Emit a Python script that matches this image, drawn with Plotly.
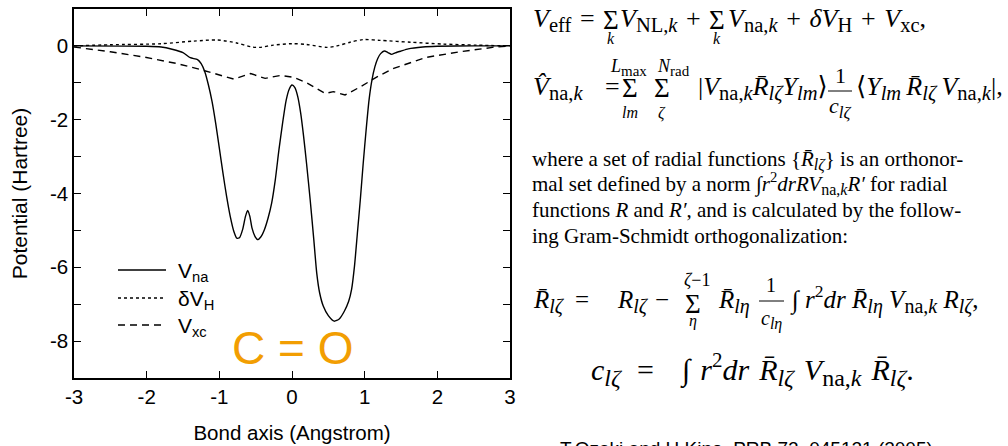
import plotly.graph_objects as go

# ---- potentials along the C=O bond axis (Hartree vs Angstrom) ----
x_na = [-3.0, -2.0, -1.8, -1.65, -1.5, -1.4, -1.3, -1.25, -1.2, -1.15, -1.1, -1.05,
        -1.0, -0.95, -0.9, -0.85, -0.8, -0.76, -0.72, -0.68, -0.64, -0.61, -0.58,
        -0.55, -0.51, -0.47, -0.43, -0.38, -0.33, -0.28, -0.23, -0.18, -0.13, -0.08,
        -0.04, 0.0, 0.04, 0.08, 0.12, 0.16, 0.2, 0.25, 0.3, 0.34, 0.38, 0.43, 0.5,
        0.58, 0.65, 0.72, 0.78, 0.82, 0.86, 0.9, 0.94, 0.98, 1.02, 1.06, 1.1, 1.14,
        1.18, 1.22, 1.27, 1.32, 1.37, 1.42, 1.5, 1.6, 1.8, 2.0, 2.5, 3.0]
v_na = [0.0, -0.01, -0.03, -0.09, -0.18, -0.32, -0.37, -0.48, -0.70, -1.06, -1.51, -2.10,
        -2.77, -3.45, -4.08, -4.62, -5.03, -5.21, -5.19, -4.98, -4.62, -4.46, -4.62,
        -4.94, -5.16, -5.25, -5.18, -4.98, -4.67, -4.26, -3.63, -2.82, -2.10, -1.47,
        -1.18, -1.06, -1.13, -1.38, -1.83, -2.46, -3.18, -4.17, -5.25, -6.15, -6.69,
        -7.05, -7.31, -7.46, -7.40, -7.19, -6.92, -6.60, -5.97, -5.07, -4.17, -3.18,
        -2.28, -1.47, -0.93, -0.57, -0.34, -0.21, -0.14, -0.18, -0.23, -0.19, -0.14,
        -0.08, -0.03, -0.01, 0.0, 0.0]

x_h = [-3.0, -2.5, -1.8, -1.35, -1.03, -0.76, -0.55, -0.44, -0.26, 0.0, 0.2, 0.48,
       0.62, 0.8, 0.98, 1.21, 1.63, 2.08, 2.54, 3.0]
dv_h = [0.0, 0.03, 0.06, 0.13, 0.16, 0.08, -0.03, -0.04, 0.02, 0.06, 0.04, -0.04,
        0.0, 0.10, 0.17, 0.15, 0.10, 0.05, 0.02, 0.0]

x_xc = [-3.0, -2.5, -2.04, -1.58, -1.26, -0.80, -0.57, -0.37, -0.16, 0.02, 0.2, 0.46,
        0.57, 0.73, 0.94, 1.17, 1.4, 1.85, 2.31, 2.76, 3.0]
v_xc = [-0.03, -0.16, -0.30, -0.48, -0.64, -0.90, -0.75, -0.88, -0.80, -0.85, -1.0,
        -1.29, -1.24, -1.33, -1.11, -0.84, -0.61, -0.31, -0.16, -0.04, 0.0]

series_names = ["V<sub>na</sub>", "\u03b4V<sub>H</sub>", "V<sub>xc</sub>"]
series_dash = ["solid", "3px,3px", "7px,5px"]

x_ticks = [-3, -2, -1, 0, 1, 2, 3]
x_tick_labels = ["-3", "-2", "-1", "0", "1", "2", "3"]
y_ticks = [-9, -8, -7, -6, -5, -4, -3, -2, -1, 0, 1]
y_tick_labels = ["", "-8", "", "-6", "", "-4", "", "-2", "", "0", ""]

W, H = 1008, 446
ML, MR, MT, MB = 74, 498, 9, 68
PW, PH = W - ML - MR, H - MT - MB

SANS = "Liberation Sans, Arial, sans-serif"
SERIF = "Liberation Serif, DejaVu Serif, serif"
FONT_METRICS = {SERIF: (0.891, 0.216), SANS: (0.905, 0.212)}


def fx(px):
    return (px - ML) / PW


def fy(py):
    return (H - MB - py) / PH


fig = go.Figure()
fig.add_trace(go.Scatter(x=x_na, y=v_na, mode="lines", name=series_names[0],
                         line=dict(color="black", width=1.4, dash=series_dash[0],
                                   shape="spline", smoothing=0.6)))
fig.add_trace(go.Scatter(x=x_h, y=dv_h, mode="lines", name=series_names[1],
                         line=dict(color="black", width=1.4, dash=series_dash[1],
                                   shape="spline", smoothing=0.8)))
fig.add_trace(go.Scatter(x=x_xc, y=v_xc, mode="lines", name=series_names[2],
                         line=dict(color="black", width=1.4, dash=series_dash[2])))

axis_common = dict(showline=True, linecolor="black", linewidth=1.5, mirror="ticks",
                   ticks="inside", ticklen=7, tickwidth=1.3, tickcolor="black",
                   showgrid=False, zeroline=False,
                   tickfont=dict(family=SANS, size=20.5, color="black"))

fig.update_xaxes(range=[-3, 3], tickmode="array", tickvals=x_ticks, ticktext=x_tick_labels,
                 title=dict(text="Bond axis (Angstrom)", standoff=18,
                            font=dict(family=SANS, size=20.5, color="black")),
                 **axis_common)
fig.update_yaxes(range=[-9, 1], tickmode="array", tickvals=y_ticks, ticktext=y_tick_labels,
                 title=dict(text="Potential (Hartree)", standoff=17,
                            font=dict(family=SANS, size=21, color="black")),
                 **axis_common)

notes = []


def seg(text, x, base, size, kind="sub", xanchor="left", family=SERIF, color="black"):
    """Place a text run so that its baseline sits at pixel row `base`.

    kind: 'sub' (no superscript) anchors on the box top, 'sup' (no subscript)
    anchors on the box bottom, 'both' anchors on the middle.
    """
    asc, desc = FONT_METRICS[family]
    if kind == "sup":
        y, ya = base + desc * size, "bottom"
    elif kind == "both":
        y, ya = base - (asc - desc) / 2 * size, "middle"
    else:
        y, ya = base - asc * size, "top"
    notes.append(dict(text=text, x=fx(x), y=fy(y), xref="paper", yref="paper",
                      xanchor=xanchor, yanchor=ya, showarrow=False,
                      borderpad=0, borderwidth=0,
                      font=dict(family=family, size=size, color=color)))


def bar(x0, x1, y):
    fig.add_shape(type="line", xref="paper", yref="paper", x0=fx(x0), x1=fx(x1),
                  y0=fy(y), y1=fy(y), line=dict(color="black", width=1))


def sb(t, s):
    return '<sub><span style="font-size:%gpx">%s</span></sub>' % (s, t)


SIG = "\u03a3"
SIG_SIZE = 27
TH = "\u2004"   # thick math space
MD = "\u2005"   # medium math space
RB = "<i>R\u0304</i>"
LZ = "<i>l\u03b6</i>"
LE = "<i>l\u03b7</i>"
LM = "<i>lm</i>"
NAK = "na,<i>k</i>"
R2DR = "<i>r</i><sup>2</sup><i>dr</i>"

# molecule label inside the plot
fig.add_annotation(text="C = O", x=0, y=-8.2, xref="x", yref="y", showarrow=False,
                   font=dict(family=SANS, size=46, color="#F29E02"))

# legend drawn inside the plot area
for i, (name, dash) in enumerate(zip(series_names, series_dash)):
    row = [270, 298, 325][i]
    fig.add_shape(type="line", xref="paper", yref="paper", x0=fx(118), x1=fx(166),
                  y0=fy(row), y1=fy(row), line=dict(color="black", width=1.4, dash=dash))
    seg(name, 178, [278, 306, 333][i], 21, family=SANS)

# equation 1
B1, S1, s1 = 27, 26, 20.5
seg("<i>V</i>" + sb("eff", s1) + TH + "=", 533, B1, S1)
seg(SIG, 611, 29, SIG_SIZE, xanchor="center")
seg("<i>k</i>", 611, 44, 16, xanchor="center")
seg("<i>V</i>" + sb("NL,<i>k</i>", s1) + TH + "+", 620, B1, S1)
seg(SIG, 717, 29, SIG_SIZE, xanchor="center")
seg("<i>k</i>", 717, 44, 16, xanchor="center")
seg("<i>V</i>" + sb(NAK, s1) + TH + "+" + TH + "<i>\u03b4V</i>" + sb("H", s1) + TH + "+" + TH
    + "<i>V</i>" + sb("xc", s1) + ",", 728, B1, S1)

# equation 2
B2 = 95
seg("<i>V\u0302</i>" + sb(NAK, s1), 533, B2, S1)
seg("=", 605, B2, S1)
seg(SIG, 630, 97, SIG_SIZE, xanchor="center")
seg("<i>L</i>" + sb("max", 15), 628, 72, 18, xanchor="center")
seg(LM, 630, 118, 16, xanchor="center")
seg(SIG, 662, 97, SIG_SIZE, xanchor="center")
seg("<i>N</i>" + sb("rad", 15), 673, 72, 18, xanchor="center")
seg("<i>\u03b6</i>", 662, 118, 16, xanchor="center")
seg("|<i>V</i>" + sb(NAK, s1) + RB + sb(LZ, s1) + "<i>Y</i>" + sb(LM, s1) + "\u27e9",
    698, B2, S1)
seg("1", 840, 83, 22, xanchor="center")
bar(828, 852, 91)
seg("<i>c</i>" + sb(LZ, 17), 840, 113, 22, xanchor="center")
seg("\u27e8<i>Y</i>" + sb(LM, s1) + "\u2009" + RB + sb(LZ, s1) + "\u2009<i>V</i>"
    + sb(NAK, s1) + "|,", 856, B2, S1)

# paragraph
SP = 21
seg("where a set of radial functions {" + RB + sb(LZ, 16) + "} is an orthonor-",
    532, 166, SP)
seg("mal set defined by a norm \u222b" + R2DR + "<i>RV</i>" + sb(NAK, 16)
    + "<i>R\u2032</i> for radial", 532, 191, SP, kind="both")
seg("functions <i>R</i> and <i>R\u2032</i>, and is calculated by the follow-", 532, 217, SP)
seg("ing Gram-Schmidt orthogonalization:", 532, 242.5, SP)

# equation 3
B3, S3, s3 = 308, 25, 20
seg(RB + sb(LZ, s3), 533, B3, S3)
seg("=", 575, B3, S3)
seg("<i>R</i>" + sb(LZ, s3), 617, B3, S3)
seg("\u2212", 655, B3, S3)
seg(SIG, 693, 313, SIG_SIZE, xanchor="center")
seg("<i>\u03b6</i>\u22121", 697, 286, 18, xanchor="center")
seg("<i>\u03b7</i>", 693, 326, 16, xanchor="center")
seg(RB + sb(LE, s3), 718, B3, S3)
seg("1", 771, 292, 20, xanchor="center")
bar(759, 784, 301)
seg("<i>c</i>" + sb(LE, 16), 771, 325, 20, xanchor="center")
seg("\u222b" + MD + R2DR + MD + RB + sb(LE, s3) + MD + "<i>V</i>" + sb(NAK, s3) + MD
    + "<i>R</i>" + sb(LZ, s3) + ",", 790, B3, S3, kind="both")

# equation 4
B4, S4, s4 = 380, 30, 24
seg("<i>c</i>" + sb(LZ, s4), 591, B4, S4)
seg("=", 637, B4, S4)
seg("\u222b" + TH + R2DR + TH + RB + sb(LZ, s4) + TH + "<i>V</i>" + sb(NAK, s4) + TH
    + RB + sb(LZ, s4) + ".", 680, B4, S4, kind="both")

# citation running off the bottom edge
seg("T.Ozaki and H.Kino, PRB 72, 045121 (2005)", 560, 455, 19, family=SANS)

for a in notes:
    fig.add_annotation(**a)

fig.update_layout(
    width=W, height=H, margin=dict(l=ML, r=MR, t=MT, b=MB, autoexpand=False),
    paper_bgcolor="white", plot_bgcolor="white",
    showlegend=False,
)

fig.write_html("out.html")
